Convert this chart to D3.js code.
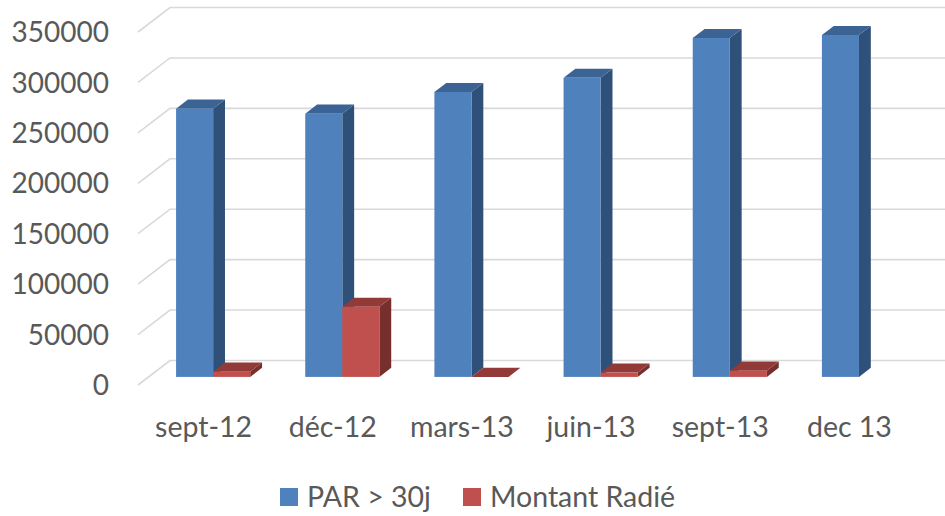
<!DOCTYPE html>
<html>
<head>
<meta charset="utf-8">
<title>PAR > 30j / Montant Radié</title>
<script src="https://d3js.org/d3.v7.min.js"></script>
<style>
  body { margin: 0; background: #fff; }
  text { font-family: Lato, "Open Sans", sans-serif; fill: #595959; }
  .grid { stroke: #d9d9d9; stroke-width: 1.6px; fill: none; }
</style>
</head>
<body>
<div id="viz"></div>
<script>
// data
var categories = ["sept-12", "déc-12", "mars-13", "juin-13", "sept-13", "dec 13"];
var seriesNames = ["PAR > 30j", "Montant Radié"];
var parValues = [266000, 261000, 282500, 296500, 336000, 339000];
var radieValues = [5200, 69600, 0, 4300, 6200, null];
var yTicks = [0, 50000, 100000, 150000, 200000, 250000, 300000, 350000];

var width = 945, height = 516;

// colors per series: front, top, side
var colors = [
  {front: "#4f81bd", top: "#3b6494", side: "#2f5078"},
  {front: "#c0504d", top: "#923a37", side: "#772f2d"}
];

var svg = d3.select("#viz").append("svg")
    .attr("width", width)
    .attr("height", height);

// front plane of the 3D box
var x = d3.scaleBand()
    .domain(categories)
    .range([138, 913]);

var gap = x.bandwidth() * 0.213;
var xs = d3.scaleBand()
    .domain(seriesNames)
    .range([gap, x.bandwidth() - gap]);

var y = d3.scaleLinear()
    .domain([0, 350000])
    .range([385, 32]);

// depth offset from front (0) to back wall (1)
var depth = {dx: 32, dy: -24.5};
function px(xv, d) { return xv + d * depth.dx; }
function py(yv, d) { return yv + d * depth.dy; }

// gridlines: left wall diagonal + back wall horizontal
var grid = svg.append("g");
yTicks.forEach(function(t) {
  var yy = y(t);
  grid.append("path")
      .attr("class", "grid")
      .attr("d", "M" + px(x.range()[0], 0) + "," + py(yy, 0) +
                 "L" + px(x.range()[0], 1) + "," + py(yy, 1) +
                 "L" + px(x.range()[1], 1) + "," + py(yy, 1));
});

// y axis labels at the front edge
svg.append("g").selectAll("text")
    .data(yTicks)
    .join("text")
    .attr("x", 109)
    .attr("y", function(d) { return y(d); })
    .attr("text-anchor", "end")
    .attr("dy", "0.36em")
    .style("font-size", "28px")
    .text(function(d) { return d; });

// category labels
svg.append("g").selectAll("text")
    .data(categories)
    .join("text")
    .attr("x", function(d) { return x(d) + x.bandwidth() / 2 + 1; })
    .attr("y", 437)
    .attr("text-anchor", "middle")
    .style("font-size", "28.5px")
    .text(function(d) { return d; });

// bars as boxes, depth from d0 to d1
var d0 = 0.33, d1 = 0.70;
var bars = [];
categories.forEach(function(c, i) {
  [parValues[i], radieValues[i]].forEach(function(v, s) {
    if (v === null) return;
    bars.push({cat: c, s: s, v: v});
  });
});

var gBars = svg.append("g");
bars.forEach(function(b) {
  var xl = x(b.cat) + xs(seriesNames[b.s]);
  var xr = xl + xs.bandwidth();
  var yt = y(b.v), yb = y(0);
  var col = colors[b.s];
  var g = gBars.append("g");
  // side face
  g.append("polygon")
      .attr("points", [
        [px(xr, d0), py(yt, d0)], [px(xr, d1), py(yt, d1)],
        [px(xr, d1), py(yb, d1)], [px(xr, d0), py(yb, d0)]
      ].join(" "))
      .attr("fill", col.side);
  // top face
  g.append("polygon")
      .attr("points", [
        [px(xl, d0), py(yt, d0)], [px(xl, d1), py(yt, d1)],
        [px(xr, d1), py(yt, d1)], [px(xr, d0), py(yt, d0)]
      ].join(" "))
      .attr("fill", col.top);
  // front face
  g.append("rect")
      .attr("x", px(xl, d0))
      .attr("y", py(yt, d0))
      .attr("width", xr - xl)
      .attr("height", yb - yt)
      .attr("fill", col.front);
});

// legend
var legendX = [280, 463];
var legend = svg.append("g").selectAll("g")
    .data(seriesNames)
    .join("g")
    .attr("transform", function(d, i) { return "translate(" + legendX[i] + ",488)"; });
legend.append("rect")
    .attr("width", 18)
    .attr("height", 18)
    .attr("fill", function(d, i) { return colors[i].front; });
legend.append("text")
    .attr("x", 27)
    .attr("y", 9)
    .attr("dy", "0.36em")
    .style("font-size", "28.5px")
    .text(function(d) { return d; });
</script>
</body>
</html>
